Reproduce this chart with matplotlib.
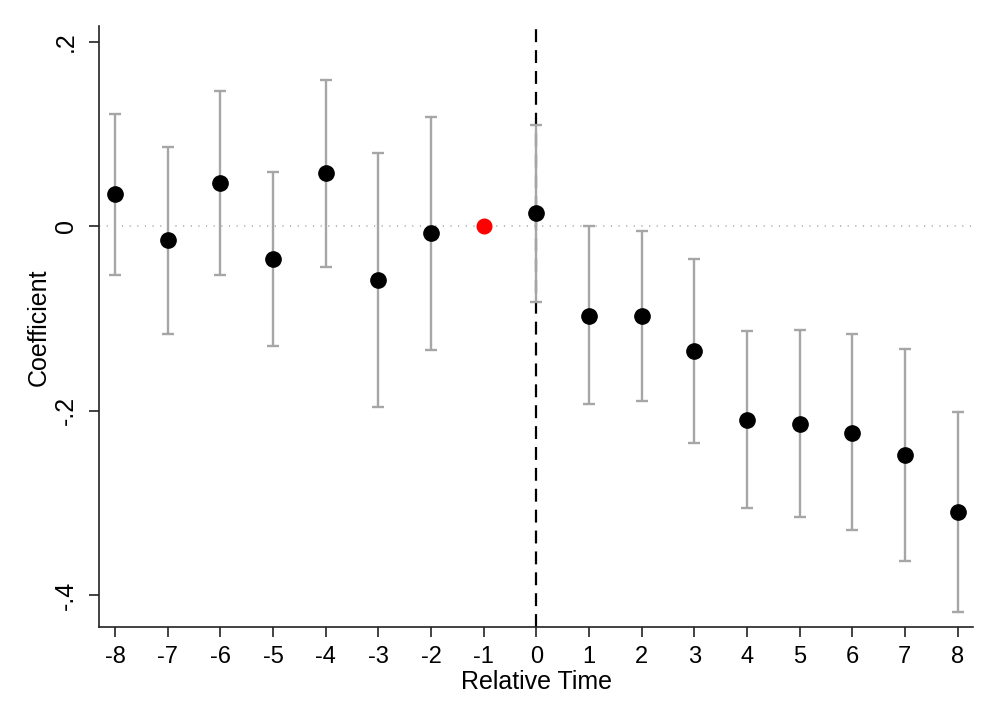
import matplotlib.pyplot as plt
import numpy as np

# event-study coefficients, relative time -8..8 (reference period -1 set to 0)
rel_time = [-8, -7, -6, -5, -4, -3, -2, -1, 0, 1, 2, 3, 4, 5, 6, 7, 8]
coef = [0.035, -0.015, 0.047, -0.035, 0.058, -0.058, -0.007, 0.0, 0.014,
        -0.097, -0.097, -0.135, -0.210, -0.214, -0.224, -0.248, -0.310]
ci_hi = [0.122, 0.086, 0.147, 0.059, 0.159, 0.080, 0.119, np.nan, 0.110,
         0.000, -0.005, -0.035, -0.114, -0.113, -0.117, -0.133, -0.201]
ci_lo = [-0.053, -0.117, -0.053, -0.130, -0.044, -0.196, -0.134, np.nan, -0.082,
         -0.193, -0.189, -0.235, -0.305, -0.315, -0.329, -0.363, -0.418]
yticks = [0.2, 0, -0.2, -0.4]
ytick_labels = [".2", "0", "-.2", "-.4"]

plt.rcParams["font.family"] = ["Liberation Sans", "DejaVu Sans"]

x = np.array(rel_time)
y = np.array(coef)
hi = np.array(ci_hi)
lo = np.array(ci_lo)
ref = x == -1

fig = plt.figure(figsize=(10, 7.27), dpi=100)
ax = fig.add_axes([0.0993, 0.137, 0.874, 0.827])

ax.axhline(0, color="#a8a8a8", lw=1.1, linestyle=(0, (0.8, 4.2)), zorder=1)
ax.axvline(0, color="black", lw=1.6, dashes=(5.8, 3.6), zorder=1)

ax.errorbar(x[~ref], y[~ref], yerr=[y[~ref] - lo[~ref], hi[~ref] - y[~ref]],
            fmt="none", ecolor="#a6a6a6", elinewidth=1.7, capsize=4.5, capthick=1.7, zorder=2)
ax.plot(x[~ref], y[~ref], "o", color="black", ms=11, zorder=3)
ax.plot(x[ref], y[ref], "o", color="red", ms=10.5, zorder=3)

ax.set_xlim(-8.3, 8.3)
ax.set_ylim(-0.435, 0.217)
ax.set_xticks(rel_time)
ax.set_xticklabels([str(t) for t in rel_time])
ax.set_yticks(yticks)
ax.set_yticklabels(ytick_labels, rotation=90, va="center")

for s in ["top", "right"]:
    ax.spines[s].set_visible(False)
for s in ["left", "bottom"]:
    ax.spines[s].set_linewidth(1.2)
    ax.spines[s].set_color("#222222")

ax.tick_params(axis="both", length=7.5, width=1.2, color="#222222", pad=6)
ax.tick_params(axis="x", labelsize=17)
ax.tick_params(axis="y", labelsize=18, pad=8)

ax.set_xlabel("Relative Time", fontsize=18, labelpad=1)
ax.set_ylabel("Coefficient", fontsize=18, labelpad=2)

plt.savefig("out.png", dpi=100)
plt.close()
